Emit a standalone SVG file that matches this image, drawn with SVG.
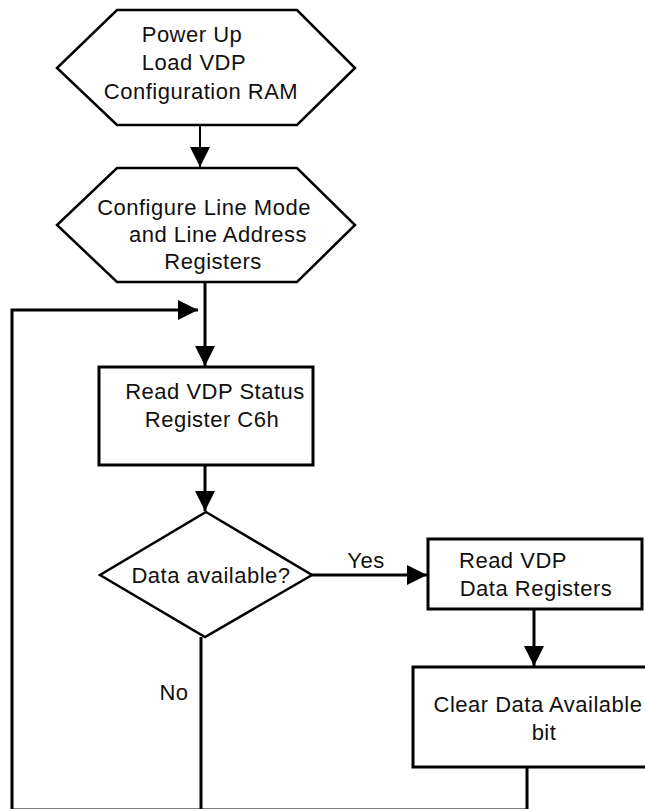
<svg xmlns="http://www.w3.org/2000/svg" width="645" height="809" viewBox="0 0 645 809">
<style>
.shape{fill:#fff;stroke:#000;stroke-width:2.5;stroke-linejoin:miter}
.box{fill:#fff;stroke:#000;stroke-width:3}
.t{font-family:"Liberation Sans",Arial,sans-serif;font-size:22px;letter-spacing:0.5px;fill:#111;text-anchor:middle}
.c{fill:none;stroke:#000;stroke-width:3}
.c2{fill:none;stroke:#000;stroke-width:2}
</style>
<defs>
<marker id="arr" viewBox="0 0 20 20" refX="20" refY="10" markerWidth="20" markerHeight="20" orient="auto" markerUnits="userSpaceOnUse">
<path d="M0,0 L20,10 L0,20 z" fill="#000"/>
</marker>
</defs>
<rect width="645" height="809" fill="#fff"/>
<g id="connectors">
<line class="c2" x1="200" y1="125" x2="200" y2="167" marker-end="url(#arr)"/>
<line class="c" x1="205" y1="282" x2="205" y2="366" marker-end="url(#arr)"/>
<line class="c" x1="205" y1="465" x2="205" y2="511" marker-end="url(#arr)"/>
<line class="c" x1="312" y1="575" x2="427" y2="575" marker-end="url(#arr)"/>
<line class="c" x1="534" y1="609" x2="534" y2="666" marker-end="url(#arr)"/>
<line class="c" x1="201" y1="637" x2="201" y2="811"/>
<path class="c" d="M527,767 V810 H12 V310 H198" marker-end="url(#arr)"/>
</g>
<g id="power-up">
<polygon class="shape" points="117,10 297,10 355,68 297,125 117,125 57,68"/>
<text class="t" x="192" y="42">Power Up</text>
<text class="t" x="194" y="70">Load VDP</text>
<text class="t" x="201" y="99">Configuration RAM</text>
</g>
<g id="configure">
<polygon class="shape" points="117,168 297,168 355,225 297,282 117,282 57,225"/>
<text class="t" x="204" y="215">Configure Line Mode</text>
<text class="t" x="218" y="242">and Line Address</text>
<text class="t" x="213" y="269">Registers</text>
</g>
<g id="read-status">
<rect class="box" x="99" y="367" width="214" height="98"/>
<text class="t" x="215" y="399">Read VDP Status</text>
<text class="t" x="212" y="427">Register C6h</text>
</g>
<g id="decision">
<polygon class="shape" points="206,512 312,575 205,637 100,575"/>
<text class="t" x="211" y="583">Data available?</text>
</g>
<g id="read-data">
<rect class="box" x="428" y="539" width="214" height="70"/>
<text class="t" x="513" y="568">Read VDP</text>
<text class="t" x="536" y="596">Data Registers</text>
</g>
<g id="clear">
<rect class="box" x="413" y="667" width="250" height="100"/>
<text class="t" x="538" y="712">Clear Data Available</text>
<text class="t" x="544" y="740">bit</text>
</g>
<g id="labels">
<text class="t" x="366" y="568">Yes</text>
<text class="t" x="174" y="700">No</text>
</g>
</svg>
